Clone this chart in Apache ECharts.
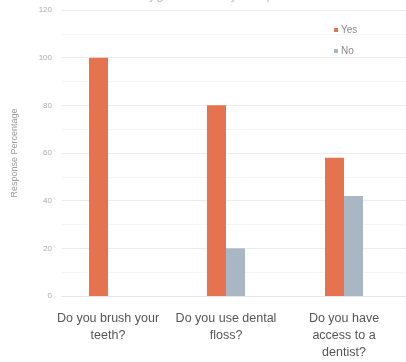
<!DOCTYPE html>
<html>
<head>
<meta charset="utf-8">
<script src="https://cdn.jsdelivr.net/npm/echarts@6/dist/echarts.min.js"></script>
<style>html,body{margin:0;padding:0;background:#fff}#c{width:406px;height:362px}</style>
</head>
<body>
<div id="c"></div>
<script>
const categories = ['Do you brush your\nteeth?', 'Do you use dental\nfloss?', 'Do you have\naccess to a\ndentist?'];
const yesValues = [100, 80, 58];
const noValues = [0, 20, 42];
const seriesNames = ['Yes', 'No'];
const chartTitle = 'Dental Hygiene Survey Responses';
const yAxisName = 'Response Percentage';

const chart = echarts.init(document.getElementById('c'), null, {renderer: 'canvas'});
chart.setOption({
  animation: false,
  backgroundColor: '#fff',
  title: {
    text: chartTitle, left: 'center', top: -17,
    textStyle: {fontFamily: 'Liberation Sans', fontSize: 14, fontWeight: 'normal', color: '#c4c4c4'}
  },
  legend: {
    data: seriesNames, orient: 'vertical', left: 329, top: 20, itemWidth: 4, itemHeight: 4, itemGap: 11,
    icon: 'rect',
    textStyle: {fontFamily: 'Liberation Sans', fontSize: 10, color: '#888', padding: [0, 0, 0, -2]}
  },
  grid: [
    {left: 49, right: 3, top: 10, bottom: 66},
    {left: 62, right: 0, top: 10, bottom: 66}
  ],
  xAxis: [
    {
      type: 'category', data: categories, gridIndex: 0,
      axisLine: {show: false},
      axisTick: {show: false},
      axisLabel: {fontFamily: 'Liberation Sans', fontSize: 12.5, color: '#555', lineHeight: 17, margin: 14, interval: 0}
    },
    {
      type: 'category', data: categories, gridIndex: 1,
      axisLine: {show: true, lineStyle: {color: '#e6e6e6'}},
      axisTick: {show: false}, axisLabel: {show: false}
    }
  ],
  yAxis: [
    {
      type: 'value', min: 0, max: 120, interval: 20, gridIndex: 0,
      name: yAxisName, nameLocation: 'middle', nameGap: 30,
      nameTextStyle: {fontFamily: 'Liberation Sans', fontSize: 9, color: '#999'},
      axisLine: {show: false}, axisTick: {show: false},
      axisLabel: {show: false},
      splitLine: {show: false}
    },
    {
      type: 'value', min: 0, max: 120, interval: 20, gridIndex: 1,
      axisLine: {show: false}, axisTick: {show: false},
      axisLabel: {fontFamily: 'Liberation Sans', fontSize: 8, color: '#aaa', margin: 10},
      splitLine: {lineStyle: {color: '#ececec'}},
      minorTick: {show: false, splitNumber: 2},
      minorSplitLine: {show: true, lineStyle: {color: '#f5f5f5'}}
    }
  ],
  series: [
    {name: seriesNames[0], type: 'bar', xAxisIndex: 0, yAxisIndex: 0, data: yesValues, barWidth: 19, barGap: '0%', itemStyle: {color: '#E5734F'}, z: 3},
    {name: seriesNames[1], type: 'bar', xAxisIndex: 0, yAxisIndex: 0, data: noValues, barWidth: 19, itemStyle: {color: '#A8B7C3'}, z: 3}
  ]
});
</script>
</body>
</html>
